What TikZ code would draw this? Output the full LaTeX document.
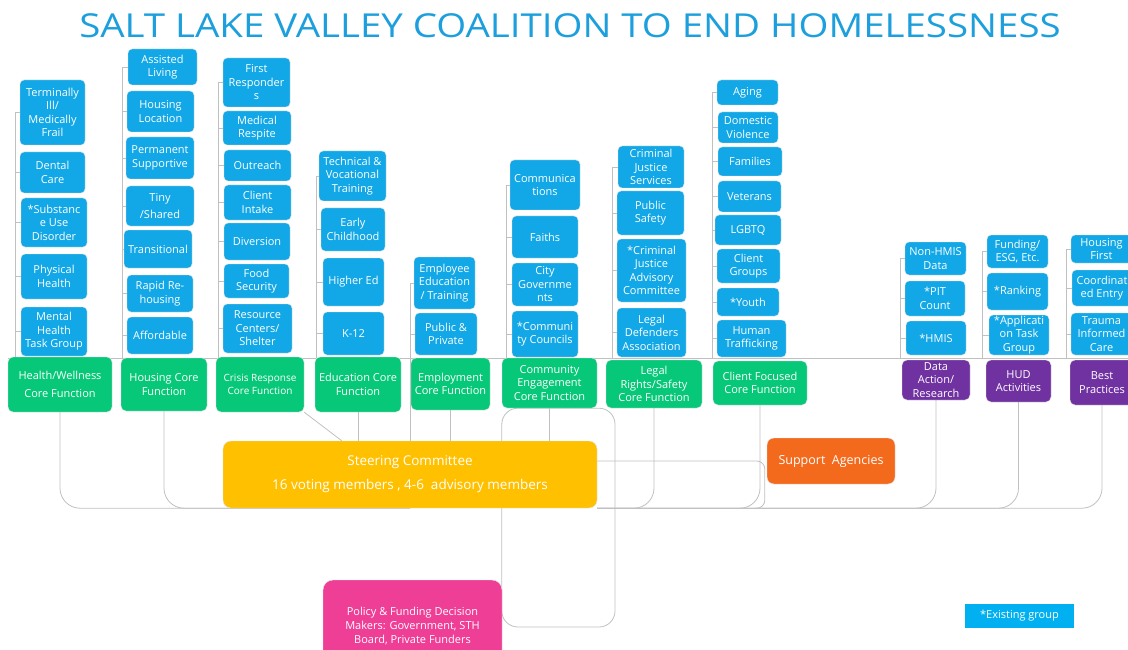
\documentclass[tikz,border=0pt]{standalone}
\usepackage{fontspec}
\usepackage{graphicx}
\setmainfont{Open Sans}
\usetikzlibrary{backgrounds, calc}
\definecolor{TitleBlue}{RGB}{28,159,220}
\definecolor{SubBlue}{RGB}{18,167,230}
\definecolor{CoreGreen}{RGB}{6,200,120}
\definecolor{CorePurple}{RGB}{112,50,160}
\definecolor{SteerYellow}{RGB}{255,192,0}
\definecolor{SupportOrange}{RGB}{244,106,28}
\definecolor{PolicyPink}{RGB}{238,62,150}
\definecolor{KeyBlue}{RGB}{0,176,240}
\definecolor{LineGray}{RGB}{192,192,192}

\begin{document}
\begin{tikzpicture}[x=1pt, y=-1pt,
        every node/.style={font=\fontsize{11}{13.5}\selectfont, text=white, align=center, inner sep=1pt},
        sub/.style 2 args={draw=black!10, fill=SubBlue, rounded corners=4pt, minimum width=#1pt, minimum height=#2pt},
        core/.style 2 args={draw=black!10, fill=CoreGreen, rounded corners=5pt, minimum width=#1pt, minimum height=#2pt},
        hub/.style 2 args={core={#1}{#2}, fill=CorePurple},
        conn/.style={draw=LineGray, line width=0.8pt}]

        \useasboundingbox (0,0) rectangle (1128,650);

        % --- Title ---
        \node[text=TitleBlue, font=\fontsize{33}{36}\selectfont] (title) at (570,26) {\scalebox{1.165}[1]{SALT LAKE VALLEY COALITION TO END HOMELESSNESS}};

        % --- Health/Wellness ---
        \node[sub={65}{65}] (ill) at (52.5,112.5) {Terminally\\Ill/\\Medically\\Frail};
        \node[sub={65}{41}] (dental) at (52.5,172.5) {Dental\\Care};
        \node[sub={66}{49}] (subst) at (54,222.5) {*Substanc\\e Use\\Disorder};
        \node[sub={66}{45}] (phys) at (54,276.5) {Physical\\Health};
        \node[sub={66}{49}] (mental) at (54,331.5) {Mental\\Health\\Task Group};
        \node[core={104}{55}] (healthcore) at (60,384.5) {Health/Wellness\\[5pt]Core Function};

        % --- Housing ---
        \node[sub={69}{36}] (assisted) at (162.5,67) {Assisted\\Living};
        \node[sub={67}{41}] (location) at (160.5,111.5) {Housing\\Location};
        \node[sub={68}{42}] (permanent) at (160,158) {Permanent\\Supportive};
        \node[sub={68}{40}] (tiny) at (160,206) {Tiny\\[4pt]/Shared};
        \node[sub={68}{38}] (transitional) at (158,249) {Transitional};
        \node[sub={66}{37}] (rapid) at (160,293.5) {Rapid Re-\\housing};
        \node[sub={66}{37}] (affordable) at (160,335.5) {Affordable};
        \node[core={86}{53}] (housingcore) at (164,384.5) {Housing Core\\Function};

        % --- Crisis Response ---
        \node[sub={67}{49}] (responders) at (256.5,82.5) {First\\Responder\\s};
        \node[sub={68}{34}] (respite) at (257,128) {Medical\\Respite};
        \node[sub={67}{31}] (outreach) at (257.5,165.5) {Outreach};
        \node[sub={67}{35}] (intake) at (257.5,202.5) {Client\\Intake};
        \node[sub={66}{37}] (diversion) at (257,241.5) {Diversion};
        \node[sub={65}{34}] (food) at (256.5,281) {Food\\Security};
        \node[sub={69}{49}] (shelter) at (257.5,328.5) {Resource\\Centers/\\Shelter};
        \node[core={88}{55}, font=\fontsize{10}{13}\selectfont] (crisiscore) at (260,384.5) {Crisis Response\\Core Function};

        % --- Education ---
        \node[sub={67}{50}] (technical) at (352.5,176) {Technical \&\\Vocational\\Training};
        \node[sub={64}{43}] (early) at (353,229.5) {Early\\Childhood};
        \node[sub={61}{48}] (higher) at (353.5,282) {Higher Ed};
        \node[sub={61}{43}] (kschool) at (353.5,333.5) {K-12};
        \node[core={86}{55}] (educationcore) at (358,384.5) {Education Core\\Function};

        % --- Employment ---
        \node[sub={61}{52}] (empeducation) at (444.5,283) {Employee\\Education\\/ Training};
        \node[sub={62}{42}] (publicprivate) at (446,334) {Public \&\\Private};
        \node[core={79}{52}] (employmentcore) at (450.5,384) {Employment\\Core Function};

        % --- Community Engagement ---
        \node[sub={70}{50}] (communications) at (545,185) {Communica\\tions};
        \node[sub={66}{42}] (faiths) at (545,237) {Faiths};
        \node[sub={66}{43}] (citygov) at (545,284.5) {City\\Governme\\nts};
        \node[sub={66}{46}] (councils) at (545,334) {*Communi\\ty Councils};
        \node[core={95}{50}] (communitycore) at (549.5,383) {Community\\Engagement\\Core Function};

        % --- Legal Rights/Safety ---
        \node[sub={66}{42}] (cjservices) at (651,167) {Criminal\\Justice\\Services};
        \node[sub={67}{44}] (publicsafety) at (650.5,213) {Public\\Safety};
        \node[sub={69}{63}] (cjac) at (651.5,270.5) {*Criminal\\Justice\\Advisory\\Committee};
        \node[sub={69}{49}] (defenders) at (651.5,332.5) {Legal\\Defenders\\Association};
        \node[core={96}{48}] (legalcore) at (654,384) {Legal\\Rights/Safety\\Core Function};

        % --- Client Focused ---
        \node[sub={61}{25}] (aging) at (747.5,92.5) {Aging};
        \node[sub={60}{31}] (domestic) at (748,127.5) {Domestic\\Violence};
        \node[sub={64}{29}] (families) at (750,161.5) {Families};
        \node[sub={63}{31}] (veterans) at (749.5,196.5) {Veterans};
        \node[sub={66}{30}] (lgbtq) at (748,230) {LGBTQ};
        \node[sub={63}{34}] (clientgroups) at (748.5,266) {Client\\Groups};
        \node[sub={62}{28}] (youth) at (748,302) {*Youth};
        \node[sub={69}{37}] (trafficking) at (751.5,338.5) {Human\\Trafficking};
        \node[core={94}{44}] (clientcore) at (760,383) {Client Focused\\Core Function};

        % --- Data ---
        \node[sub={61}{33}] (nonhmis) at (935.5,258.5) {Non-HMIS\\Data};
        \node[sub={60}{35}] (pit) at (935,298.5) {*PIT\\Count};
        \node[sub={60}{34}] (hmis) at (936,338) {*HMIS};
        \node[hub={68}{40}] (datacore) at (936,380) {Data\\Action/\\Research};

        % --- HUD ---
        \node[sub={61}{33}] (funding) at (1017.5,251.5) {Funding/\\ESG, Etc.};
        \node[sub={61}{37}] (ranking) at (1017.5,291.5) {*Ranking};
        \node[sub={60}{40}] (application) at (1019,335) {*Applicati\\on Task\\Group};
        \node[hub={65}{42}] (hudcore) at (1018.5,381) {HUD\\Activities};

        % --- Best Practices ---
        \node[sub={61}{28}] (housingfirst) at (1101.5,249) {Housing\\First};
        \node[sub={60}{36}] (coordinated) at (1102,288) {Coordinat\\ed Entry};
        \node[sub={61}{42}] (trauma) at (1101.5,334) {Trauma\\Informed\\Care};
        \node[hub={64}{45}] (bestcore) at (1102,382.5) {Best\\Practices};

        % --- Steering, support, policy ---
        \node[core={374}{67}, fill=SteerYellow, rounded corners=8pt, font=\fontsize{13.5}{16}\selectfont] (steering) at (410,474.5) {Steering Committee\\[8pt]16 voting members , 4-6~ advisory members};
        \node[core={128}{46}, fill=SupportOrange, rounded corners=7pt, font=\fontsize{12.5}{15}\selectfont] (support) at (831,461) {Support~ Agencies};
        \node[core={179}{92}, fill=PolicyPink, rounded corners=10pt, font=\fontsize{11}{14}\selectfont] (policy) at (412.5,626) {Policy \& Funding Decision\\Makers: Government, STH\\Board, Private Funders};
        \node[fill=KeyBlue, minimum width=109pt, minimum height=24pt, font=\fontsize{11}{13}\selectfont] (legend) at (1019.5,616) {*Existing group};

        % --- Connectors ---
        \begin{scope}[on background layer]
            \coordinate (busL) at (8,358);
            \coordinate (busR) at (1128,358);
            \draw[conn] (busL) -- (busR);

            % column brackets
            \foreach \top/\others/\hx in {ill/{dental,subst,phys,mental}/15,
                    assisted/{location,permanent,tiny,transitional,rapid,affordable}/122,
                    responders/{respite,outreach,intake,diversion,food,shelter}/218,
                    technical/{early,higher,kschool}/316,
                    empeducation/{publicprivate}/410,
                    communications/{faiths,citygov,councils}/506,
                    cjservices/{publicsafety,cjac,defenders}/612,
                    aging/{domestic,families,veterans,lgbtq,clientgroups,youth,trafficking}/712,
                    nonhmis/{pit,hmis}/900,
                    funding/{ranking,application}/982,
                    housingfirst/{coordinated,trauma}/1066} {
                \coordinate (hx) at (\hx,0);
                \draw[conn] (\top.west) -| (hx |- busL);
                \foreach \n in \others
                    \draw[conn] (\n.west) -- (\n.west -| hx);
            }

            % core functions to steering
            \coordinate (empline) at (410,0);
            \draw[conn] (empline |- busL) -- (empline |- steering.north);
            \draw[conn, rounded corners=20pt] (healthcore.south) |- (steering.south);
            \draw[conn, rounded corners=20pt] (housingcore.south) |- (steering.south);
            \draw[conn] (crisiscore.south east) -- ([xshift=119pt]steering.north west);
            \draw[conn] (educationcore.south) -- (educationcore.south |- steering.north);
            \draw[conn] (employmentcore.south) -- (employmentcore.south |- steering.north);
            \draw[conn] (communitycore.south) -- (communitycore.south |- steering.north);
            \coordinate (loopcorner) at (615,627);
            \draw[conn, rounded corners=16pt] (communitycore.south west) rectangle (loopcorner);
            \draw[conn, rounded corners=20pt] (legalcore.south) |- (steering.south east);
            \draw[conn, rounded corners=20pt] (clientcore.south) |- (steering.south east);
            \draw[conn, rounded corners=20pt] (datacore.south) |- (steering.south east);
            \draw[conn, rounded corners=20pt] (hudcore.south) |- (steering.south east);
            \draw[conn, rounded corners=20pt] (bestcore.south) |- (steering.south east);

            % steering to support agencies
            \draw[conn, rounded corners=8pt] (steering.east |- support.west) -- ([xshift=-2pt]support.west) |- ([xshift=-12pt]support.west |- steering.south);
        \end{scope}

    \end{tikzpicture}
\end{document}
